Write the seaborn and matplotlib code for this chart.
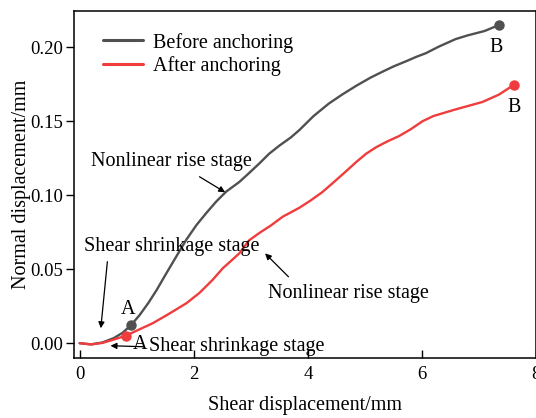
import numpy as np
import pandas as pd
import matplotlib
matplotlib.use("Agg")
import matplotlib.pyplot as plt
import seaborn as sns

# Shear displacement (mm) vs. normal displacement (mm)
before_x = [0, 0.2, 0.4, 0.6, 0.75, 0.9, 1.05, 1.2, 1.35, 1.5, 1.7, 1.87,
            2.05, 2.22, 2.4, 2.57, 2.8, 2.97, 3.15, 3.32, 3.5, 3.7, 3.85, 4.1,
            4.37, 4.6, 4.85, 5.1, 5.31, 5.5, 5.72, 5.9, 6.07, 6.3, 6.59, 6.8,
            7.1, 7.35]
before_y = [0, -0.0008, 0.0005, 0.0035, 0.007, 0.0122, 0.019, 0.027, 0.036,
            0.046, 0.059, 0.070, 0.080, 0.088, 0.096, 0.1025, 0.109, 0.115,
            0.1215, 0.128, 0.1335, 0.139, 0.144, 0.1535, 0.162, 0.168, 0.174,
            0.1795, 0.1835, 0.187, 0.1905, 0.1935, 0.196, 0.2005, 0.2055,
            0.208, 0.211, 0.215]

after_x = [0, 0.2, 0.4, 0.6, 0.81, 1.0, 1.28, 1.55, 1.87, 2.1, 2.33, 2.51,
           2.65, 2.8, 2.97, 3.15, 3.35, 3.56, 3.85, 4.05, 4.25, 4.43, 4.65,
           4.85, 5.02, 5.2, 5.4, 5.6, 5.8, 6.01, 6.2, 6.59, 7.06, 7.35, 7.61]
after_y = [0, -0.0008, 0.0002, 0.0025, 0.0051, 0.0085, 0.0135, 0.0195, 0.027,
           0.034, 0.0428, 0.0507, 0.0555, 0.0608, 0.0695, 0.0745, 0.0795,
           0.0855, 0.0915, 0.0965, 0.102, 0.108, 0.1155, 0.1225, 0.128,
           0.1325, 0.1365, 0.140, 0.1445, 0.150, 0.1535, 0.158, 0.163, 0.168,
           0.1745]

series_names = ["Before anchoring", "After anchoring"]
series_colors = ["#505050", "#f03c3c"]

# Characteristic points A (end of shear shrinkage) and B (end of test)
point_a_index = [5, 4]

sns.set_theme(style="ticks")
plt.rcParams["font.family"] = ["Liberation Serif", "DejaVu Serif"]
plt.rcParams["text.color"] = "black"
plt.rcParams["axes.labelcolor"] = "black"
plt.rcParams["xtick.color"] = "black"
plt.rcParams["ytick.color"] = "black"

df = pd.concat([
    pd.DataFrame({"x": before_x, "y": before_y, "series": series_names[0]}),
    pd.DataFrame({"x": after_x, "y": after_y, "series": series_names[1]}),
], ignore_index=True)

fig = plt.figure(figsize=(5.36, 4.18), dpi=100)
ax = fig.add_axes([74 / 536, 1 - 358 / 418, 462 / 536, 347 / 418])

sns.lineplot(data=df, x="x", y="y", hue="series", palette=series_colors,
             hue_order=series_names, sort=False, estimator=None,
             linewidth=1.7, ax=ax)
for line in ax.get_lines():
    line.set_solid_joinstyle("round")
    line.set_solid_capstyle("round")

xs = [before_x, after_x]
ys = [before_y, after_y]
for i in range(2):
    ia = point_a_index[i]
    ax.plot([xs[i][ia], xs[i][-1]], [ys[i][ia], ys[i][-1]], "o",
            color=series_colors[i], markersize=6.5, zorder=5)

fs = 14.5
ax.text(before_x[5] - 0.05, before_y[5] + 0.004, "A", fontsize=fs,
        ha="center", va="bottom")
ax.text(after_x[4] + 0.12, -0.0008, "A", fontsize=fs,
        ha="left", va="center")
ax.text(before_x[-1] - 0.05, before_y[-1] - 0.009, "B", fontsize=fs,
        ha="center", va="top")
ax.text(after_x[-1], after_y[-1] - 0.0085, "B", fontsize=fs,
        ha="center", va="top")

arrow = dict(arrowstyle="-|>", color="black", lw=0.9, mutation_scale=9,
             shrinkA=0, shrinkB=0)
ax.annotate("", xy=(2.55, 0.102), xytext=(2.1, 0.1125), arrowprops=arrow)
ax.text(1.6, 0.1225, "Nonlinear rise stage", fontsize=fs, ha="center",
        va="center")

ax.annotate("", xy=(3.25, 0.0607), xytext=(3.66, 0.0449), arrowprops=arrow)
ax.text(4.72, 0.0335, "Nonlinear rise stage", fontsize=fs, ha="center",
        va="center")

ax.annotate("", xy=(0.37, 0.0101), xytext=(0.485, 0.0551), arrowprops=arrow)
ax.text(1.61, 0.0655, "Shear shrinkage stage", fontsize=fs, ha="center",
        va="center")

ax.annotate("", xy=(0.54, -0.0017), xytext=(1.13, -0.0024), arrowprops=arrow)
ax.text(1.215, -0.0022, "Shear shrinkage stage", fontsize=fs, ha="left",
        va="center")

ax.set_xlim(-0.1, 8.0)
ax.set_ylim(-0.01, 0.2245)
ax.set_xticks([0, 2, 4, 6, 8])
ax.set_yticks([0.0, 0.05, 0.10, 0.15, 0.20])
ax.set_yticklabels(["0.00", "0.05", "0.10", "0.15", "0.20"])
ax.tick_params(axis="x", direction="in", length=6, width=1.0,
               labelsize=13.5, pad=6)
ax.tick_params(axis="y", direction="out", length=6, width=1.0,
               labelsize=13.5, pad=2)
for sp in ax.spines.values():
    sp.set_visible(True)
    sp.set_linewidth(1.1)
    sp.set_color("black")

ax.set_xlabel("Shear displacement/mm", fontsize=fs, labelpad=9)
ax.set_ylabel("Normal displacement/mm", fontsize=fs, labelpad=-1)

leg = ax.legend(loc="upper left", frameon=False, fontsize=fs,
                handlelength=2.0, handletextpad=0.5, labelspacing=0.2,
                bbox_to_anchor=(0.023, 0.99))
for line in leg.get_lines():
    line.set_linewidth(2.2)

fig.savefig("out.png", dpi=100)
